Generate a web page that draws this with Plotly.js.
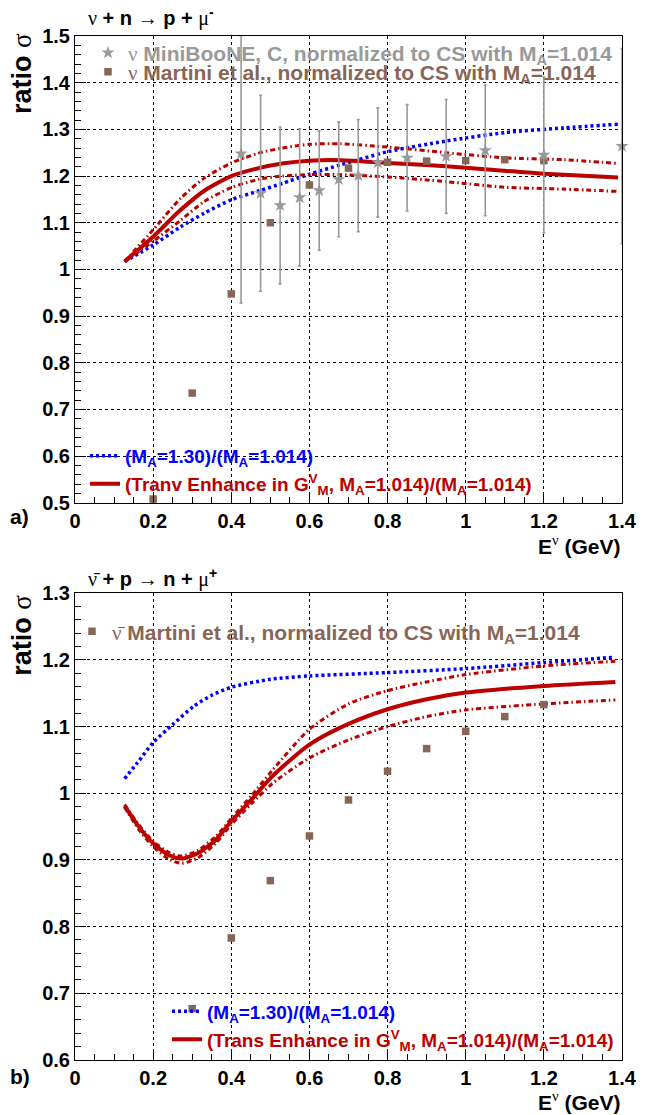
<!DOCTYPE html>
<html><head><meta charset="utf-8">
<script src="https://cdn.plot.ly/plotly-3.0.1.min.js"></script>
<style>body{margin:0;background:#fff}</style>
</head><body><div id="chart" style="width:648px;height:1115px"></div>
<script>
// ---------------- data: panel a) nu + n -> p + mu- ----------------
const mbE      = [0.425,0.475,0.525,0.575,0.625,0.675,0.725,0.775,0.85,0.95,1.05,1.2,1.4];
const mbRatio  = [1.248,1.163,1.137,1.154,1.169,1.193,1.201,1.229,1.239,1.242,1.255,1.245,1.264];
const mbErrUp  = [0.252,0.21,0.168,0.147,0.128,0.123,0.12,0.117,0.114,0.122,0.14,0.167,0.209];
const mbErrDn  = [0.32,0.21,0.168,0.147,0.128,0.123,0.12,0.117,0.114,0.122,0.14,0.167,0.209];

const martANuE = [0.2,0.3,0.4,0.5,0.6,0.7,0.8,0.9,1.0,1.1,1.2];
const martANuR = [0.508,0.735,0.9475,1.1,1.181,1.217,1.2295,1.232,1.233,1.235,1.233];

const aBlueE  = [0.127,0.2,0.27,0.33,0.4,0.47,0.53,0.6,0.68,0.8,0.95,1.1,1.25,1.39];
const aBlueR  = [1.017,1.052,1.091,1.12,1.149,1.168,1.184,1.204,1.224,1.252,1.275,1.293,1.303,1.311];
const aRedE   = [0.127,0.2,0.27,0.33,0.4,0.47,0.53,0.6,0.68,0.8,0.95,1.12,1.2,1.39];
const aRedR   = [1.017,1.07,1.127,1.168,1.2,1.217,1.227,1.233,1.234,1.228,1.221,1.21,1.205,1.197];
const aRedHiR = [1.017,1.085,1.152,1.195,1.228,1.249,1.26,1.268,1.269,1.262,1.25,1.239,1.235,1.227];
const aRedLoR = [1.017,1.06,1.105,1.145,1.175,1.193,1.2,1.203,1.203,1.198,1.188,1.176,1.172,1.167];

// ---------------- data: panel b) nubar + p -> n + mu+ ----------------
const martBE = [0.3,0.4,0.5,0.6,0.7,0.8,0.9,1.0,1.1,1.2];
const martBR = [0.677,0.783,0.869,0.936,0.99,1.033,1.067,1.093,1.115,1.133];

const bBlueE = [0.127,0.16,0.2,0.25,0.305,0.35,0.4,0.5,0.6,0.8,1.0,1.2,1.38];
const bBlueR = [1.022,1.046,1.076,1.103,1.131,1.147,1.159,1.171,1.176,1.181,1.187,1.196,1.204];
const bRedE   = [0.127,0.163,0.2,0.241,0.273,0.314,0.36,0.4,0.451,0.506,0.6,0.7,0.8,0.9,1.0,1.2,1.383];
const bRedR   = [0.981,0.95,0.925,0.907,0.902,0.91,0.93,0.958,0.99,1.026,1.073,1.104,1.126,1.141,1.151,1.161,1.167];
const bRedHiR = [0.983,0.953,0.928,0.911,0.906,0.914,0.935,0.962,0.996,1.035,1.096,1.134,1.154,1.167,1.178,1.191,1.198];
const bRedLoR = [0.979,0.946,0.92,0.901,0.895,0.903,0.925,0.953,0.984,1.015,1.053,1.08,1.1,1.115,1.125,1.134,1.14];

// ---------------- labels ----------------
const SER = s => '<span style="font-family:Liberation Serif;font-weight:normal">' + s + '</span>';
const titleA = SER('ν') + ' + n ' + SER('→') + ' p + ' + SER('μ') + '<sup>-</sup>';
const titleB = SER('ν̄') + ' + p ' + SER('→') + ' n + ' + SER('μ') + '<sup>+</sup>';
const nameMB   = SER('ν') + ' MiniBooNE, C, normalized to CS with M<sub>A</sub>=1.014';
const nameMA   = SER('ν') + ' Martini et al., normalized to CS with M<sub>A</sub>=1.014';
const nameMBb  = SER('ν̄') + ' Martini et al., normalized to CS with M<sub>A</sub>=1.014';
const nameBlue = '(M<sub>A</sub>=1.30)/(M<sub>A</sub>=1.014)';
const nameRedA = '(Tranv Enhance in G<sup>V</sup><sub>M</sub>, M<sub>A</sub>=1.014)/(M<sub>A</sub>=1.014)';
const nameRedB = '(Trans Enhance in G<sup>V</sup><sub>M</sub>, M<sub>A</sub>=1.014)/(M<sub>A</sub>=1.014)';

// ---------------- style ----------------
const W = 648, H = 1115, ML = 75, MR = 26, MT = 36, MB = 54.5;
const PW = W - ML - MR, PH = H - MT - MB;
const px2x = p => (p - ML) / PW;
const px2y = p => (H - MB - p) / PH;
const FONT = 'Liberation Sans, Arial, sans-serif';
const BLUE = '#0000ff', RED = '#bb0000', GRAY = '#999999', BROWN = '#876657';
const dashDot = '5px,3px,1.5px,3px';

function line(x, y, xa, ya, color, width, dash, name, legend) {
  return {x, y, xaxis: xa, yaxis: ya, type: 'scatter', mode: 'lines',
    line: {color, width, dash, shape: 'spline', smoothing: 0.7},
    name: name || '', showlegend: !!name, legend: legend || 'legend', hoverinfo: 'skip'};
}

const traces = [
  line(aBlueE, aBlueR, 'x', 'y', BLUE, 3.5, '3px,3px', nameBlue, 'legend3'),
  line(aBlueE, aRedHiR, 'x', 'y', RED, 3, dashDot),
  line(aBlueE, aRedLoR, 'x', 'y', RED, 3, dashDot),
  line(aRedE, aRedR, 'x', 'y', RED, 4, 'solid', nameRedA, 'legend4'),
  {x: martANuE, y: martANuR, xaxis: 'x', yaxis: 'y', type: 'scatter', mode: 'markers',
   marker: {symbol: 'square', size: 7.5, color: BROWN}, name: nameMA, legend: 'legend2', cliponaxis: false},
  {x: mbE, y: mbRatio, xaxis: 'x', yaxis: 'y', type: 'scatter', mode: 'markers',
   marker: {symbol: 'star', size: 10, color: GRAY},
   error_y: {type: 'data', symmetric: false, array: mbErrUp, arrayminus: mbErrDn, color: GRAY, thickness: 1.6, width: 1.5},
   name: nameMB, legend: 'legend', cliponaxis: false},

  line(bBlueE, bBlueR, 'x2', 'y2', BLUE, 3.5, '3px,3px', nameBlue, 'legend6'),
  line(bRedE, bRedHiR, 'x2', 'y2', RED, 3, dashDot),
  line(bRedE, bRedLoR, 'x2', 'y2', RED, 3, dashDot),
  line(bRedE, bRedR, 'x2', 'y2', RED, 4, 'solid', nameRedB, 'legend7'),
  {x: martBE, y: martBR, xaxis: 'x2', yaxis: 'y2', type: 'scatter', mode: 'markers',
   marker: {symbol: 'square', size: 7.5, color: BROWN}, name: nameMBb, legend: 'legend5', cliponaxis: false}
];

function xax(anchor) {
  return {anchor, domain: [0, 1], range: [0, 1.4], tick0: 0, dtick: 0.2, ticks: 'inside', ticklen: 11,
    tickcolor: '#000', tickwidth: 1, showline: true, linecolor: '#000', linewidth: 1, mirror: true,
    showgrid: true, gridcolor: '#000', griddash: 'dot', gridwidth: 1, zeroline: false,
    minor: {dtick: 0.05, ticks: 'inside', ticklen: 6, tickcolor: '#000', showgrid: false},
    tickfont: {family: FONT, size: 20, weight: 'bold', color: '#000'}, fixedrange: true};
}
function yax(anchor, domain, range) {
  return {anchor, domain, range, tick0: 0, dtick: 0.1, ticks: 'inside', ticklen: 11,
    tickcolor: '#000', tickwidth: 1, showline: true, linecolor: '#000', linewidth: 1, mirror: true,
    showgrid: true, gridcolor: '#000', griddash: 'dot', gridwidth: 1, zeroline: false,
    minor: {dtick: 0.02, ticks: 'inside', ticklen: 6, tickcolor: '#000', showgrid: false},
    tickfont: {family: FONT, size: 20, weight: 'bold', color: '#000'}, fixedrange: true};
}
function leg(xp, yp, color, size) {
  return {x: px2x(xp), y: px2y(yp), xanchor: 'left', yanchor: 'middle', bgcolor: 'rgba(0,0,0,0)',
    borderwidth: 0, font: {family: FONT, size, weight: 'bold', color}, itemclick: false, itemdoubleclick: false};
}
function ann(text, xp, yp, size, xanchor, extra) {
  return Object.assign({text, x: px2x(xp), y: px2y(yp), xref: 'paper', yref: 'paper', showarrow: false,
    xanchor: xanchor || 'left', yanchor: 'middle', font: {family: FONT, size, weight: 'bold', color: '#000'}}, extra || {});
}

const topDom = [1 - 467 / PH, 1];
const botDom = [0, 467 / PH];

const layout = {
  width: W, height: H, margin: {l: ML, r: MR, t: MT, b: MB, pad: 0},
  paper_bgcolor: '#fff', plot_bgcolor: '#fff',
  xaxis: xax('y'), yaxis: yax('x', topDom, [0.5, 1.5]),
  xaxis2: xax('y2'), yaxis2: yax('x2', botDom, [0.6, 1.3]),
  legend:  leg(88, 53, GRAY, 21),
  legend2: leg(88, 72, BROWN, 21),
  legend3: leg(85, 456, BLUE, 19),
  legend4: leg(85, 484, RED, 19),
  legend5: leg(72, 632, BROWN, 21),
  legend6: leg(167, 1012, BLUE, 19),
  legend7: leg(167, 1040, RED, 19),
  annotations: [
    ann(titleA, 86, 17, 20),
    ann(titleB, 86, 578, 20),
    ann('ratio ' + SER('σ'), 22, 74, 27, 'center', {textangle: -90}),
    ann('ratio ' + SER('σ'), 22, 636, 27, 'center', {textangle: -90}),
    ann('a)', 8, 517, 21),
    ann('b)', 8, 1077, 21),
    ann('E<sup>' + SER('ν') + '</sup> (GeV)', 623, 545, 21, 'right'),
    ann('E<sup>' + SER('ν') + '</sup> (GeV)', 623, 1102, 21, 'right')
  ],
  showlegend: true
};

Plotly.newPlot('chart', traces, layout, {displayModeBar: false, staticPlot: true});
</script></body></html>
